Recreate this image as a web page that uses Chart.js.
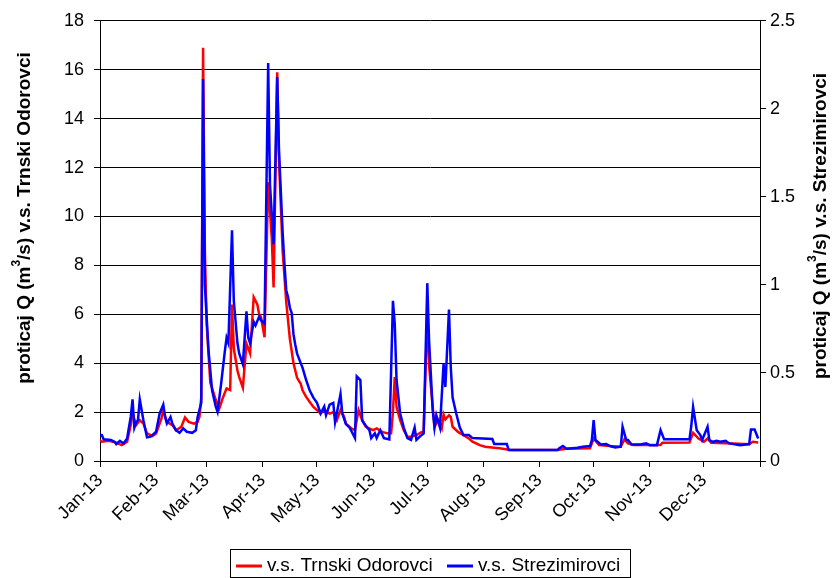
<!DOCTYPE html>
<html>
<head>
<meta charset="utf-8">
<script src="https://cdn.jsdelivr.net/npm/chart.js@4.4.0/dist/chart.umd.min.js"></script>
<style>
  body { margin: 0; background: #fff; }
  #wrap { width: 835px; height: 578px; }
</style>
</head>
<body>
<div id="wrap"><canvas id="flowChart"></canvas></div>
<script>
// month starts as day-of-year, 2013
const monthDays = [0, 31, 59, 90, 120, 151, 181, 212, 243, 273, 304, 334, 365];
const monthLabels = ['Jan-13', 'Feb-13', 'Mar-13', 'Apr-13', 'May-13', 'Jun-13',
  'Jul-13', 'Aug-13', 'Sep-13', 'Oct-13', 'Nov-13', 'Dec-13', ''];

const seriesNames = ['v.s. Trnski Odorovci', 'v.s. Strezimirovci'];

// v.s. Trnski Odorovci, left axis (m3/s)
const redDays = [0, 1, 5, 9, 12, 15, 17, 18, 20, 22, 24, 26, 29, 31, 34, 35, 37, 40, 42, 45,
  47, 49, 52, 54, 55, 56, 57, 58, 59, 60, 61, 64, 66, 68, 70, 72, 73, 74, 76, 77,
  79, 81, 83, 85, 87, 88, 89, 91, 93, 95, 96, 98, 99, 101, 103, 105, 107, 109, 111, 112,
  114, 116, 118, 120, 122, 124, 127, 129, 131, 133, 135, 136, 139, 141, 143, 145, 147, 151, 153, 156,
  159, 161, 162, 163, 164, 166, 168, 170, 172, 175, 178, 179, 181, 182, 184, 185, 187, 189, 190, 191,
  193, 194, 195, 198, 201, 204, 206, 210, 213, 218, 221, 227, 253, 258, 271, 273, 276, 282, 288, 290,
  292, 295, 310, 311, 326, 328, 331, 334, 336, 338, 350, 359, 361, 364];
const redFlow = [0.85, 0.79, 0.83, 0.75, 0.65, 0.79, 1.47, 1.95, 1.47, 1.67, 1.53, 1.13, 1.02, 1.13, 1.74, 2.08, 1.6, 1.47, 1.26, 1.4,
  1.78, 1.6, 1.53, 1.6, 1.8, 2.6, 16.9, 8.6, 5.6, 4.4, 3.2, 2.5, 2.15, 2.6, 2.97, 2.9, 6.4, 4.6, 3.7, 3.43,
  3.0, 4.8, 4.4, 6.7, 6.4, 6.0, 5.9, 5.06, 11.4, 9.1, 7.1, 15.9, 12.3, 8.6, 6.5, 5.0, 4.0, 3.4, 3.16, 2.89,
  2.62, 2.41, 2.21, 2.08, 1.94, 2.08, 1.94, 2.0, 1.67, 2.08, 1.8, 1.53, 1.33, 1.26, 2.08, 1.67, 1.4, 1.26, 1.33, 1.19,
  1.13, 1.13, 2.0, 3.43, 2.21, 1.67, 1.26, 0.99, 0.99, 1.06, 1.19, 1.2, 6.0, 3.9, 2.2, 1.4, 1.67, 1.33, 1.9, 1.7,
  1.87, 1.8, 1.4, 1.19, 1.06, 0.92, 0.79, 0.65, 0.58, 0.54, 0.52, 0.45, 0.45, 0.5, 0.52, 0.92, 0.65, 0.61, 0.58, 0.88,
  0.72, 0.65, 0.65, 0.75, 0.76, 1.15, 0.92, 0.79, 0.92, 0.75, 0.72, 0.69, 0.79, 0.76];

// v.s. Strezimirovci, right axis (m3/s)
const blueDays = [0, 1, 2, 6, 8, 9, 11, 13, 15, 16, 17, 18, 19, 20, 21, 22, 24, 26, 28, 30,
  31, 33, 35, 36, 37, 39, 40, 42, 44, 46, 48, 51, 53, 54, 56, 57, 58, 60, 62, 64,
  65, 67, 69, 70, 71, 73, 74, 76, 77, 79, 81, 82, 83, 85, 86, 88, 89, 91, 93, 94,
  96, 98, 99, 101, 102, 103, 104, 105, 106, 107, 108, 109, 111, 112, 114, 116, 118, 120, 122, 124,
  125, 127, 129, 130, 133, 134, 136, 138, 141, 142, 144, 145, 147, 149, 150, 152, 153, 155, 157, 160,
  162, 163, 164, 166, 168, 170, 172, 174, 175, 177, 179, 181, 182, 184, 185, 186, 188, 190, 191, 193,
  194, 195, 197, 199, 201, 204, 206, 217, 218, 225, 226, 253, 254, 256, 258, 264, 267, 271, 272, 273,
  274, 277, 280, 282, 285, 288, 289, 291, 292, 294, 299, 302, 304, 308, 310, 312, 326, 327, 328, 330,
  332, 333, 336, 337, 339, 341, 343, 346, 348, 354, 359, 360, 362, 364];
const blueFlow = [0.15, 0.147, 0.123, 0.119, 0.109, 0.096, 0.115, 0.1, 0.128, 0.19, 0.25, 0.35, 0.19, 0.22, 0.232, 0.35, 0.232, 0.134, 0.138, 0.157,
  0.166, 0.27, 0.32, 0.25, 0.213, 0.25, 0.213, 0.175, 0.16, 0.185, 0.166, 0.16, 0.175, 0.25, 0.33, 2.17, 1.0, 0.63, 0.4, 0.31,
  0.28, 0.44, 0.62, 0.7, 0.67, 1.31, 0.91, 0.67, 0.61, 0.55, 0.85, 0.7, 0.67, 0.79, 0.77, 0.82, 0.8, 0.78, 2.26, 1.57,
  1.23, 2.18, 1.76, 1.3, 1.12, 0.97, 0.93, 0.87, 0.84, 0.72, 0.66, 0.61, 0.556, 0.53, 0.46, 0.4, 0.36, 0.33, 0.27, 0.31,
  0.26, 0.32, 0.33, 0.22, 0.38, 0.27, 0.21, 0.19, 0.13, 0.48, 0.46, 0.23, 0.2, 0.175, 0.13, 0.157, 0.13, 0.175, 0.13, 0.123,
  0.91, 0.78, 0.46, 0.27, 0.19, 0.13, 0.12, 0.19, 0.12, 0.14, 0.157, 1.01, 0.68, 0.29, 0.19, 0.26, 0.19, 0.55, 0.42, 0.86,
  0.53, 0.36, 0.27, 0.19, 0.147, 0.147, 0.13, 0.125, 0.096, 0.096, 0.062, 0.062, 0.072, 0.085, 0.07, 0.075, 0.081, 0.085, 0.119, 0.232,
  0.119, 0.094, 0.096, 0.085, 0.077, 0.081, 0.194, 0.119, 0.119, 0.094, 0.094, 0.1, 0.09, 0.09, 0.175, 0.123, 0.123, 0.2, 0.307, 0.175,
  0.147, 0.119, 0.194, 0.119, 0.109, 0.115, 0.109, 0.115, 0.1, 0.09, 0.096, 0.179, 0.179, 0.128];

const FONT = '"Liberation Sans", Arial, sans-serif';

// axis titles drawn by hand so both read bottom-to-top, with the superscript 3
function drawTitle(ctx, tail, cx, cy) {
  const parts = [['proticaj Q (m', 19, 0], ['3', 12, -8], ['/s) ' + tail, 19, 0]];
  ctx.save();
  ctx.translate(cx, cy);
  ctx.rotate(-Math.PI / 2);
  let w = 0;
  parts.forEach(p => { ctx.font = 'bold ' + p[1] + 'px ' + FONT; w += ctx.measureText(p[0]).width; });
  let x = -w / 2;
  ctx.fillStyle = '#000';
  ctx.textBaseline = 'middle';
  parts.forEach(p => {
    ctx.font = 'bold ' + p[1] + 'px ' + FONT;
    ctx.fillText(p[0], x, p[2]);
    x += ctx.measureText(p[0]).width;
  });
  ctx.restore();
}

const extras = {
  id: 'extras',
  afterDraw(chart) {
    const ctx = chart.ctx;
    drawTitle(ctx, 'v.s. Trnski Odorovci', 25, 218);
    drawTitle(ctx, 'v.s. Strezimirovci', 821, 226);

    // legend box
    ctx.save();
    ctx.strokeStyle = '#000';
    ctx.lineWidth = 1;
    ctx.strokeRect(230.5, 549.5, 400, 28);
    ctx.font = '19px ' + FONT;
    ctx.textBaseline = 'middle';
    ctx.fillStyle = '#000';
    const starts = [236, 447];
    chart.data.datasets.slice().sort((a, b) => b.order - a.order).forEach((ds, i) => {
      const x = starts[i];
      ctx.strokeStyle = ds.borderColor;
      ctx.lineWidth = 3;
      ctx.beginPath();
      ctx.moveTo(x, 566);
      ctx.lineTo(x + 26, 566);
      ctx.stroke();
      ctx.fillText(ds.label, x + 31, 566);
    });
    ctx.restore();
  }
};

new Chart(document.getElementById('flowChart'), {
  type: 'line',
  data: {
    datasets: [
      {
        label: seriesNames[1],
        data: blueDays.map((d, i) => ({ x: d, y: blueFlow[i] })),
        yAxisID: 'y1',
        borderColor: '#0000ff',
        borderWidth: 2.5,
        pointRadius: 0,
        tension: 0,
        order: 0
      },
      {
        label: seriesNames[0],
        data: redDays.map((d, i) => ({ x: d, y: redFlow[i] })),
        yAxisID: 'y',
        borderColor: '#ff0000',
        borderWidth: 2.5,
        pointRadius: 0,
        tension: 0,
        order: 1
      }
    ]
  },
  options: {
    responsive: true,
    maintainAspectRatio: false,
    animation: false,
    layout: { padding: { top: 19, left: 0, right: 0, bottom: 0 } },
    plugins: { legend: { display: false }, tooltip: { enabled: false } },
    scales: {
      x: {
        type: 'linear',
        min: 0,
        max: 365,
        afterBuildTicks: s => { s.ticks = monthDays.map(v => ({ value: v })); },
        afterFit: s => { s.height = 117; },
        ticks: {
          autoSkip: false,
          minRotation: 45,
          maxRotation: 45,
          color: '#000',
          font: { size: 18, family: FONT },
          callback: v => monthLabels[monthDays.indexOf(v)]
        },
        grid: { drawOnChartArea: false, color: '#000', tickLength: 6 },
        border: { color: '#000' }
      },
      y: {
        position: 'left',
        min: 0,
        max: 18,
        afterFit: s => { s.width = 100; },
        ticks: { stepSize: 2, color: '#000', font: { size: 18, family: FONT }, padding: 10 },
        grid: { color: '#000', tickLength: 6 },
        border: { color: '#000' }
      },
      y1: {
        position: 'right',
        min: 0,
        max: 2.5,
        afterFit: s => { s.width = 75; },
        ticks: { stepSize: 0.5, color: '#000', font: { size: 18, family: FONT }, padding: 4,
          callback: v => String(v) },
        grid: { drawOnChartArea: false, color: '#000', tickLength: 6 },
        border: { color: '#000' }
      }
    }
  },
  plugins: [extras]
});
</script>
</body>
</html>
